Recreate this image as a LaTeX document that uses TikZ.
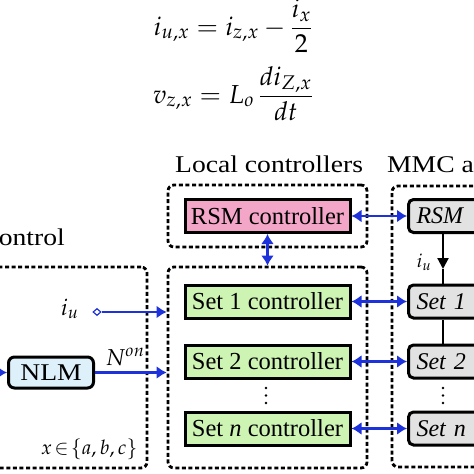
\documentclass[tikz,border=0pt]{standalone}
\usepackage{amsmath}
\usepackage{mathpazo}
\usepackage[no-math]{fontspec}
\setmainfont{Liberation Serif}
\newfontfamily\widefont[FakeStretch=1.15]{Liberation Serif}
\usetikzlibrary{arrows.meta,shapes.geometric}
\definecolor{pinkfill}{RGB}{244,166,200}
\definecolor{greenfill}{RGB}{206,244,180}
\definecolor{bluefill}{RGB}{222,240,250}
\definecolor{grayfill}{RGB}{226,226,226}
\definecolor{arrowblue}{RGB}{30,50,220}
\begin{document}
\begin{tikzpicture}[x=1pt,y=-1pt,
  txt/.style={font=\fontsize{24}{28}\selectfont\widefont},
  ctrl/.style={draw, line width=3pt, minimum width=165pt, minimum height=33pt, inner sep=0pt, font=\fontsize{24.5}{28}\selectfont},
  arm/.style={draw, line width=3pt, rounded corners=5pt, fill=grayfill, minimum height=33pt, text width=80pt, inner xsep=8pt, align=left, anchor=west, font=\fontsize{24}{28}\selectfont\itshape},
  grp/.style={draw, line width=2.8pt, dash pattern=on 4pt off 2.6pt, rounded corners=6pt, inner sep=0pt},
  tipb/.tip={Latex[length=10pt,width=13pt]},
  barrow/.style={draw=arrowblue, line width=2.4pt, tipb-tipb},
  bone/.style={draw=arrowblue, line width=2.4pt, -tipb},
  mlab/.style={font=\fontsize{23}{27}\selectfont},
  dotc/.style={fill=black, circle, inner sep=0pt, minimum size=2.8pt},
]
\useasboundingbox (0,0) rectangle (474,474);
\clip (0,0) rectangle (474,474);

% equations
\node[anchor=base, font=\fontsize{26}{30}\selectfont] (eq1) at (233,35) {$i_{u,x} = i_{z,x} - \dfrac{i_x}{2}$};
\node[anchor=base, font=\fontsize{26}{30}\selectfont] (eq2) at (233,103) {$v_{z,x} = L_o\,\dfrac{di_{Z,x}}{dt}$};

% titles
\node[txt, anchor=base west, inner sep=0pt] (tloc) at (175,172) {Local controllers};
\node[txt, anchor=base west, inner sep=0pt] (tmmc) at (387,172) {MMC arm};
\node[txt, anchor=base east, inner sep=0pt] (tctl) at (65,245) {Control};

% dashed groups
\node[grp, minimum width=199pt, minimum height=62pt] (g1) at (267.5,216) {};
\node[grp, minimum width=199pt, minimum height=201pt] (g2) at (267.5,367.5) {};
\node[grp, minimum width=140pt, minimum height=281pt] (g3) at (462,326.5) {};
\node[grp, minimum width=190pt, minimum height=201pt] (g0) at (52,367.5) {};

% local controllers
\node[ctrl, fill=pinkfill] (rsmC) at (267.5,216) {RSM controller};
\node[ctrl, fill=greenfill] (set1C) at (267.5,301.5) {Set 1 controller};
\node[ctrl, fill=greenfill] (set2C) at (267.5,361.5) {Set 2 controller};
\node[ctrl, fill=greenfill] (setnC) at (267.5,428.5) {Set \textit{n} controller};
\node[dotc] (d1a) at (266,388) {};
\node[dotc] (d1b) at (266,395.5) {};
\node[dotc] (d1c) at (266,403) {};

% MMC arm blocks
\node[arm] (rsmA) at (407,216) {RSM};
\node[arm] (set1A) at (407,301.5) {Set 1};
\node[arm] (set2A) at (407,361.5) {Set 2};
\node[arm] (setnA) at (407,428.5) {Set n};
\node[dotc] (d2a) at (443,388) {};
\node[dotc] (d2b) at (443,395.5) {};
\node[dotc] (d2c) at (443,403) {};

% control side
\node[draw, line width=3pt, rounded corners=6pt, fill=bluefill, minimum width=85pt, minimum height=31pt, inner sep=0pt, font=\fontsize{24}{28}\selectfont\widefont] (nlm) at (51,372.5) {NLM};
\coordinate (nin) at (-6,372.5);
\node[diamond, draw=arrowblue, fill=white, line width=1.2pt, minimum width=8pt, minimum height=7pt, inner sep=0pt] (iuS) at (97,312) {};
\node[mlab, anchor=east] (iulab) at (82,309) {$i_u$};
\node[mlab, anchor=base west] (nonlab) at (102,365) {$N^{on}$};
\node[font=\fontsize{20}{24}\selectfont, anchor=base east] (xlab) at (141,454) {$x\!\in\!\{a,b,c\}$};

% connectors
\draw[bone] (nin) -- (nlm.west);
\draw[bone] (nlm.east) -- (nlm.east -| g2.west);
\draw[bone] (iuS.east) -- (iuS.east -| g2.west);
\draw[barrow] (rsmC.south) -- (g2.north);
\draw[barrow] (rsmC.east) -- (rsmA.west);
\draw[barrow] (set1C.east) -- (set1A.west);
\draw[barrow] (set2C.east) -- (set2A.west);
\draw[barrow] (setnC.east) -- (setnA.west);

\coordinate (xl) at (443,0);
\coordinate (mid) at (443,269);
\draw[line width=2.2pt, -{Triangle[length=11pt,width=11pt]}] (rsmA.south -| xl) -- (mid);
\draw[line width=2.2pt] (mid) -- (set1A.north -| xl);
\draw[line width=2.2pt] (set1A.south -| xl) -- (set2A.north -| xl);
\node[font=\fontsize{19}{23}\selectfont] (iu2) at (424,262) {$i_u$};
\end{tikzpicture}
\end{document}
